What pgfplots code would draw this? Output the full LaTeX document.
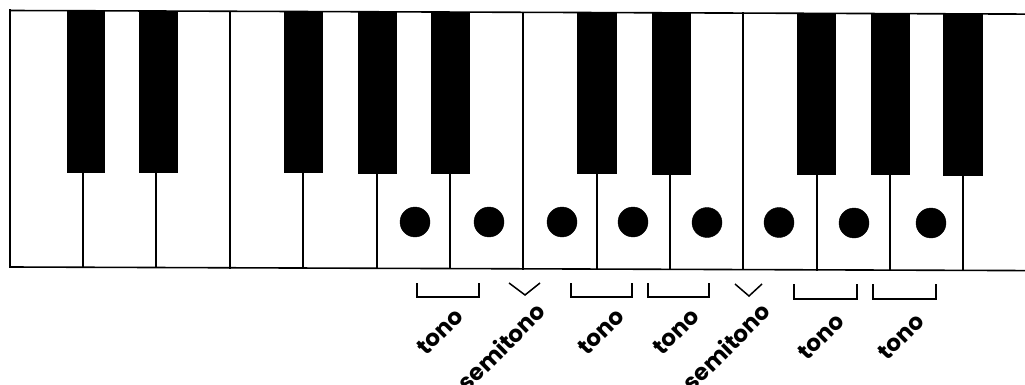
\documentclass[border=0pt]{standalone}
\usepackage{fontspec}
\setmainfont{Poppins}
\usepackage{pgfplots}
\pgfplotsset{compat=1.18}
\begin{document}
\begin{tikzpicture}
\useasboundingbox (0,0) rectangle (1025pt,385pt);
\clip (0,0) rectangle (1025pt,385pt);
\begin{axis}[
  scale only axis, width=1025pt, height=385pt,
  xmin=0, xmax=1025, ymin=0, ymax=385, y dir=reverse,
  hide axis, clip=false,
  every axis plot/.append style={black, line cap=rect},
]
% black keys
\addplot[fill=black, draw=black, line width=0.5pt] coordinates {(67,10.8) (104,10.8) (104,171.8) (67,171.8)} --cycle;
\addplot[fill=black, draw=black, line width=0.5pt] coordinates {(139,11.1) (177,11.1) (177,172.1) (139,172.1)} --cycle;
\addplot[fill=black, draw=black, line width=0.5pt] coordinates {(284,11.6) (322,11.6) (322,172.6) (284,172.6)} --cycle;
\addplot[fill=black, draw=black, line width=0.5pt] coordinates {(358,11.8) (396,11.8) (396,172.8) (358,172.8)} --cycle;
\addplot[fill=black, draw=black, line width=0.5pt] coordinates {(431,12.1) (469,12.1) (469,173.1) (431,173.1)} --cycle;
\addplot[fill=black, draw=black, line width=0.5pt] coordinates {(577,12.6) (616,12.6) (616,173.6) (577,173.6)} --cycle;
\addplot[fill=black, draw=black, line width=0.5pt] coordinates {(652,12.8) (690,12.8) (690,173.8) (652,173.8)} --cycle;
\addplot[fill=black, draw=black, line width=0.5pt] coordinates {(797,13.4) (835,13.4) (835,174.4) (797,174.4)} --cycle;
\addplot[fill=black, draw=black, line width=0.5pt] coordinates {(871,13.6) (909,13.6) (909,174.6) (871,174.6)} --cycle;
\addplot[fill=black, draw=black, line width=0.5pt] coordinates {(943,13.8) (982,13.8) (982,174.8) (943,174.8)} --cycle;
% outline
\addplot[line width=1.6pt] coordinates {(1030,14.1) (10,10.5) (10,267) (1030,270.6)};
\addplot[line width=2.5pt] coordinates {(10,10.5) (10,267)};
% dividers
\addplot[line width=1.4pt] coordinates {(83,171.8) (83,267.3)};
\addplot[line width=1.4pt] coordinates {(156,172.1) (156,267.5)};
\addplot[line width=1.4pt] coordinates {(230,11.3) (230,267.8)};
\addplot[line width=1.4pt] coordinates {(303,172.6) (303,268.1)};
\addplot[line width=1.4pt] coordinates {(377,172.8) (377,268.3)};
\addplot[line width=1.4pt] coordinates {(450,173.1) (450,268.6)};
\addplot[line width=1.4pt] coordinates {(523,12.3) (523,268.8)};
\addplot[line width=1.4pt] coordinates {(597,173.6) (597,269.1)};
\addplot[line width=1.4pt] coordinates {(670,173.8) (670,269.3)};
\addplot[line width=1.4pt] coordinates {(743,13.1) (743,269.6)};
\addplot[line width=1.4pt] coordinates {(817,174.4) (817,269.9)};
\addplot[line width=1.4pt] coordinates {(890,174.6) (890,270.1)};
\addplot[line width=1.4pt] coordinates {(963,174.8) (963,270.4)};
% dots
\addplot[only marks, mark=*, mark size=15pt, mark options={fill=black, draw=black}]
  coordinates {(415,222) (489,222) (562,222) (633,222) (707,222.5) (779,222.5) (854,223) (931,223)};
% brackets: tono
\addplot[line width=1.8pt, line cap=butt] coordinates {(417,283) (417,297) (479,297) (479,283)};
\addplot[line width=1.8pt, line cap=butt] coordinates {(571,283) (571,297) (632,297) (632,283)};
\addplot[line width=1.8pt, line cap=butt] coordinates {(648,283) (648,297) (709,297) (709,283)};
\addplot[line width=1.8pt, line cap=butt] coordinates {(794,284) (794,299) (857,299) (857,284)};
\addplot[line width=1.8pt, line cap=butt] coordinates {(873,284) (873,299) (936,299) (936,284)};
% brackets: semitono
\addplot[line width=1.5pt, line cap=butt] coordinates {(509,283) (525,295) (540,283)};
\addplot[line width=1.5pt, line cap=butt] coordinates {(735,284) (749,296) (762,284)};
% labels
\begin{scope}[every node/.style={rotate=45, anchor=east, inner sep=0pt, font=\fontsize{23}{23}\selectfont\bfseries}]
\node at (axis cs:459,312) {tono};
\node at (axis cs:541,307) {semitono};
\node at (axis cs:620,312) {tono};
\node at (axis cs:695,312) {tono};
\node at (axis cs:766,307) {semitono};
\node at (axis cs:840,317) {tono};
\node at (axis cs:920,317) {tono};
\end{scope}
\end{axis}
\end{tikzpicture}
\end{document}
